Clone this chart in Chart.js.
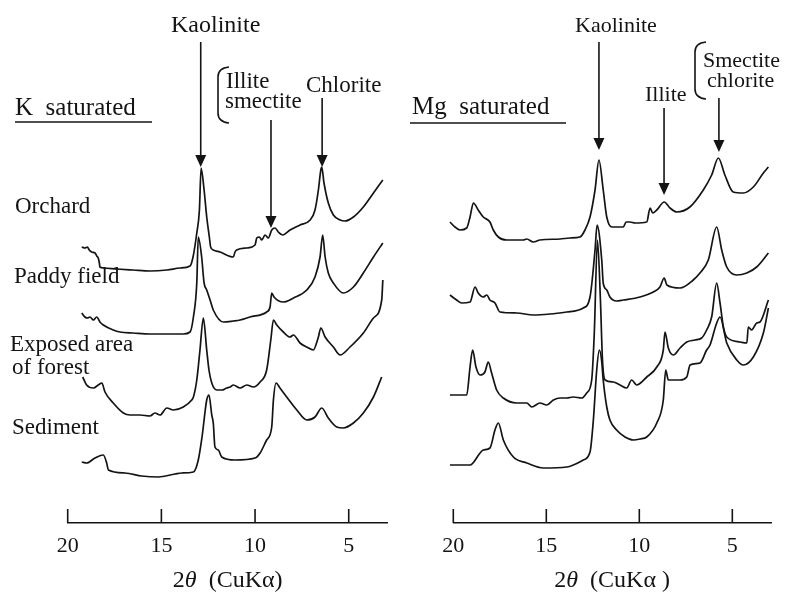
<!DOCTYPE html>
<html>
<head>
<meta charset="utf-8">
<script src="https://cdn.jsdelivr.net/npm/chart.js@4.4.1/dist/chart.umd.min.js"></script>
<style>
  body { margin: 0; background: #fff; }
  #wrap { position: relative; width: 785px; height: 600px; }
  canvas { position: absolute; top: 0; }
  #left { left: 0; }
  #right { left: 400px; }
</style>
</head>
<body>
<div id="wrap">
  <canvas id="left" width="400" height="600"></canvas>
  <canvas id="right" width="385" height="600"></canvas>
</div>
<script>
// 2theta (deg) / relative intensity, traces stacked as in the figure
const kOrchard = [[19.25,276],[19.08,275],[18.95,276],[18.85,273],[18.72,271],[18.54,270],[18.45,267],[18.37,265],[18.31,260],[18.28,256],[18.10,255],[17.37,254],[16.51,253],[15.61,252],[14.70,253],[14.00,255],[13.47,257],[13.31,266],[13.11,290],[12.97,313],[12.88,355],[12.72,333],[12.58,306],[12.44,286],[12.37,276],[12.23,273],[11.87,271],[11.16,266],[11.07,271],[10.98,273],[10.44,275],[10.00,278],[9.91,285],[9.77,286],[9.64,283],[9.47,288],[9.29,285],[9.11,293],[8.93,295],[8.76,291],[8.52,288],[8.13,293],[7.60,298],[7.06,303],[6.80,313],[6.62,333],[6.49,353],[6.44,356],[6.32,340],[6.09,320],[5.82,308],[5.46,303],[5.20,302],[4.75,306],[4.22,316],[3.68,330],[3.18,343]];
const kPaddy = [[19.25,210],[19.08,206],[18.95,205],[18.81,206],[18.63,203],[18.45,206],[18.28,201],[18.10,198],[17.57,193],[17.21,191],[16.50,190],[15.61,189],[14.71,189],[13.83,189],[13.47,191],[13.29,206],[13.11,240],[13.03,286],[12.85,266],[12.72,240],[12.58,233],[12.40,223],[12.23,213],[11.69,201],[11.16,202],[10.80,203],[10.27,206],[9.38,211],[9.20,216],[9.11,230],[8.99,226],[8.49,221],[7.95,225],[7.24,233],[6.80,246],[6.53,266],[6.39,288],[6.26,266],[6.09,250],[5.82,240],[5.29,230],[4.75,236],[4.22,250],[3.68,266],[3.18,280]];
const kExposed = [[19.20,146],[18.99,138],[18.63,135],[18.37,138],[18.18,140],[18.01,131],[17.57,120],[17.03,110],[16.67,108],[16.14,108],[15.61,107],[15.34,110],[15.07,108],[14.71,115],[14.36,113],[13.83,116],[13.38,123],[13.29,126],[13.11,143],[12.94,173],[12.76,205],[12.58,173],[12.46,153],[12.31,140],[12.04,133],[11.78,133],[11.51,135],[11.33,136],[11.16,138],[10.80,135],[10.44,138],[10.09,136],[9.73,141],[9.38,153],[9.16,183],[9.02,203],[8.84,198],[8.49,191],[8.13,186],[7.95,188],[7.60,180],[7.24,176],[6.89,173],[6.62,186],[6.49,195],[6.26,186],[5.82,176],[5.46,168],[4.93,176],[4.22,190],[3.68,205],[3.24,223],[3.18,243]];
const kSediment = [[19.25,61],[18.99,60],[18.54,65],[18.10,68],[17.92,60],[17.83,53],[16.94,50],[16.05,47],[15.16,46],[14.27,49],[13.91,50],[13.29,51],[13.03,63],[12.83,86],[12.58,123],[12.46,128],[12.31,108],[12.23,100],[12.14,76],[11.96,73],[11.78,66],[11.07,63],[10.00,65],[9.73,70],[9.38,83],[9.11,96],[9.02,123],[8.88,140],[8.67,135],[8.31,126],[7.77,113],[7.24,103],[6.80,106],[6.44,115],[6.09,105],[5.64,96],[5.29,95],[4.75,100],[4.22,110],[3.68,126],[3.24,146]];

const mgOrchard = [[20.18,301],[19.91,296],[19.64,293],[19.28,295],[19.10,306],[18.92,320],[18.66,313],[18.39,306],[18.03,301],[17.85,293],[17.58,286],[17.13,283],[16.24,283],[16.05,284],[15.70,281],[15.34,283],[14.26,284],[13.73,285],[13.19,286],[12.92,293],[12.65,306],[12.38,333],[12.17,363],[11.94,333],[11.75,306],[11.48,296],[10.86,296],[10.71,301],[10.50,301],[10.23,300],[9.60,301],[9.42,315],[9.28,310],[9.06,313],[8.66,321],[8.35,315],[7.99,311],[7.28,316],[6.56,333],[6.11,348],[5.75,365],[5.40,348],[4.95,331],[4.41,330],[3.87,336],[3.33,350],[3.06,356]];
const mgPaddy = [[20.18,228],[19.82,223],[19.55,220],[19.10,221],[18.83,236],[18.66,230],[18.39,226],[18.20,228],[18.03,223],[17.76,220],[17.49,211],[16.59,210],[15.70,208],[14.80,209],[13.90,211],[13.01,215],[12.65,226],[12.38,273],[12.27,298],[12.02,263],[11.94,240],[11.75,233],[11.58,226],[11.22,222],[10.86,223],[9.96,226],[9.25,231],[8.89,236],[8.66,245],[8.52,238],[7.81,235],[7.10,243],[6.74,250],[6.29,263],[5.84,296],[5.57,273],[5.30,256],[4.76,248],[4.22,250],[3.69,256],[3.06,270]];
const mgExposed = [[20.18,128],[19.28,128],[19.10,156],[18.96,173],[18.78,156],[18.56,148],[18.30,151],[18.12,161],[17.94,150],[17.67,133],[17.31,125],[16.59,120],[16.05,120],[15.78,116],[15.34,120],[14.98,118],[14.62,123],[14.26,125],[13.90,125],[13.55,126],[13.10,125],[12.83,130],[12.56,143],[12.42,190],[12.25,283],[12.09,223],[11.98,163],[11.84,143],[11.40,141],[11.04,138],[10.68,135],[10.41,143],[10.14,138],[9.60,146],[9.06,156],[8.71,173],[8.62,191],[8.44,175],[8.17,168],[7.81,175],[7.45,181],[7.01,183],[6.65,185],[6.38,193],[6.11,206],[5.84,240],[5.66,220],[5.48,196],[5.30,186],[4.58,181],[4.22,180],[4.14,196],[3.96,193],[3.69,200],[3.51,201],[3.06,223]];
const mgSediment = [[20.18,58],[19.10,58],[18.56,70],[18.39,73],[18.03,75],[17.76,93],[17.58,100],[17.31,83],[16.77,66],[16.05,60],[15.16,55],[13.90,56],[13.01,63],[12.65,71],[12.47,103],[12.29,153],[12.15,173],[12.03,163],[11.94,143],[11.75,116],[11.58,103],[11.22,93],[10.77,86],[10.32,83],[9.96,84],[9.60,86],[9.06,100],[8.71,123],[8.58,153],[8.44,143],[7.81,143],[7.45,146],[7.27,158],[6.74,160],[6.38,173],[6.20,178],[5.84,200],[5.66,206],[5.30,180],[4.76,163],[4.41,158],[3.87,166],[3.33,190],[3.06,215]];

const tickValues = [20, 15, 10, 5];
const sampleNames = ['Orchard', 'Paddy field', 'Exposed area', 'of forest', 'Sediment'];

// peak markers: position (2theta), arrow start / arrow tip (intensity)
const kPeaks = [
  { name: 'Kaolinite', at: 12.9, from: 481, to: 356 },
  { name: 'Illite smectite', at: 9.15, from: 403, to: 295 },
  { name: 'Chlorite', at: 6.42, from: 425, to: 356 }
];
const mgPeaks = [
  { name: 'Kaolinite', at: 12.17, from: 481, to: 373 },
  { name: 'Illite', at: 8.67, from: 415, to: 328 },
  { name: 'Smectite chlorite', at: 5.72, from: 425, to: 371 }
];

const serif = '"Liberation Serif", "Times New Roman", serif';
const ink = '#141414';
const panels = {};

function text(ctx, str, x, y, size) {
  ctx.font = size + 'px ' + serif;
  ctx.fillText(str, x, y);
}

function bracket(ctx, x, top, bottom) {
  ctx.beginPath();
  ctx.moveTo(x + 11, top);
  ctx.quadraticCurveTo(x, top + 1, x, top + 10);
  ctx.lineTo(x, bottom - 10);
  ctx.quadraticCurveTo(x, bottom - 1, x + 11, bottom);
  ctx.stroke();
}

const notesPlugin = {
  id: 'notes',
  afterDraw(chart) {
    const { ctx, chartArea } = chart;
    const xs = chart.scales.x;
    const ys = chart.scales.y;
    const cfg = panels[chart.canvas.id];
    ctx.save();
    ctx.strokeStyle = ink;
    ctx.fillStyle = ink;
    ctx.lineWidth = 1.6;

    // upward tick marks on the 2theta axis
    tickValues.forEach(t => {
      const x = xs.getPixelForValue(t);
      ctx.beginPath();
      ctx.moveTo(x, chartArea.bottom);
      ctx.lineTo(x, chartArea.bottom - 14);
      ctx.stroke();
    });

    // arrows
    cfg.peaks.forEach(p => {
      const x = xs.getPixelForValue(p.at);
      const y1 = ys.getPixelForValue(p.from);
      const y2 = ys.getPixelForValue(p.to);
      ctx.beginPath();
      ctx.moveTo(x, y1);
      ctx.lineTo(x, y2 - 11);
      ctx.stroke();
      ctx.beginPath();
      ctx.moveTo(x - 5.5, y2 - 12);
      ctx.lineTo(x + 5.5, y2 - 12);
      ctx.lineTo(x, y2);
      ctx.closePath();
      ctx.fill();
    });

    ctx.textBaseline = 'alphabetic';
    ctx.textAlign = 'left';
    cfg.draw(ctx);

    // axis title: 2θ (CuKα)
    const cx = (chartArea.left + chartArea.right) / 2;
    const parts = [['2', ''], ['\u03b8', 'italic '], ['  (CuK\u03b1' + cfg.close, '']];
    let w = 0;
    parts.forEach(pt => { ctx.font = pt[1] + '24px ' + serif; w += ctx.measureText(pt[0]).width; });
    let x = cx - w / 2;
    parts.forEach(pt => {
      ctx.font = pt[1] + '24px ' + serif;
      ctx.fillText(pt[0], x, 587);
      x += ctx.measureText(pt[0]).width;
    });
    ctx.restore();
  }
};

function trace(data) {
  return {
    data: data,
    borderColor: ink,
    borderWidth: 1.7,
    pointRadius: 0,
    cubicInterpolationMode: 'monotone',
    fill: false,
    clip: false
  };
}

function makeChart(id, series, peaks, pad, close, draw) {
  panels[id] = { peaks: peaks, close: close, draw: draw };
  return new Chart(document.getElementById(id), {
    type: 'line',
    data: { datasets: series.map(trace) },
    options: {
      responsive: false,
      animation: false,
      devicePixelRatio: 1,
      layout: { padding: pad },
      scales: {
        x: {
          type: 'linear',
          reverse: true,
          min: 2.92,
          max: 20,
          afterBuildTicks: axis => { axis.ticks = tickValues.map(v => ({ value: v })); },
          afterFit: axis => { axis.height = 77; },
          grid: { display: false, drawTicks: false },
          border: { display: true, color: ink, width: 1.6 },
          ticks: {
            color: ink,
            padding: 10,
            maxRotation: 0,
            font: { family: serif, size: 22 }
          }
        },
        y: { display: false, min: 0, max: 523 }
      },
      plugins: {
        legend: { display: false },
        tooltip: { enabled: false }
      }
    },
    plugins: [notesPlugin]
  });
}

makeChart('left', [kOrchard, kPaddy, kExposed, kSediment], kPeaks,
  { left: 67.7, right: 12.3, top: 0, bottom: 0 }, ')', ctx => {
    text(ctx, 'Kaolinite', 171, 32, 24);
    text(ctx, 'Illite', 226, 88, 23);
    text(ctx, 'smectite', 225, 108, 23);
    bracket(ctx, 218, 67, 123);
    text(ctx, 'Chlorite', 306, 92, 23);
    text(ctx, 'K  saturated', 15, 115, 25);
    ctx.beginPath();
    ctx.moveTo(15, 122);
    ctx.lineTo(152, 122);
    ctx.stroke();
    text(ctx, sampleNames[0], 15, 213, 23);
    text(ctx, sampleNames[1], 14, 283, 23);
    text(ctx, sampleNames[2], 10, 351, 23);
    text(ctx, sampleNames[3], 12, 374, 23);
    text(ctx, sampleNames[4], 12, 434, 23);
  });

makeChart('right', [mgOrchard, mgPaddy, mgExposed, mgSediment], mgPeaks,
  { left: 53.3, right: 14, top: 0, bottom: 0 }, ' )', ctx => {
    text(ctx, 'Kaolinite', 175, 32, 22);
    text(ctx, 'Illite', 245, 101, 22);
    text(ctx, 'Smectite', 303, 67, 22);
    text(ctx, 'chlorite', 307, 87, 22);
    bracket(ctx, 295, 42, 99);
    text(ctx, 'Mg  saturated', 12, 114, 25);
    ctx.beginPath();
    ctx.moveTo(10, 123);
    ctx.lineTo(166, 123);
    ctx.stroke();
  });
</script>
</body>
</html>
